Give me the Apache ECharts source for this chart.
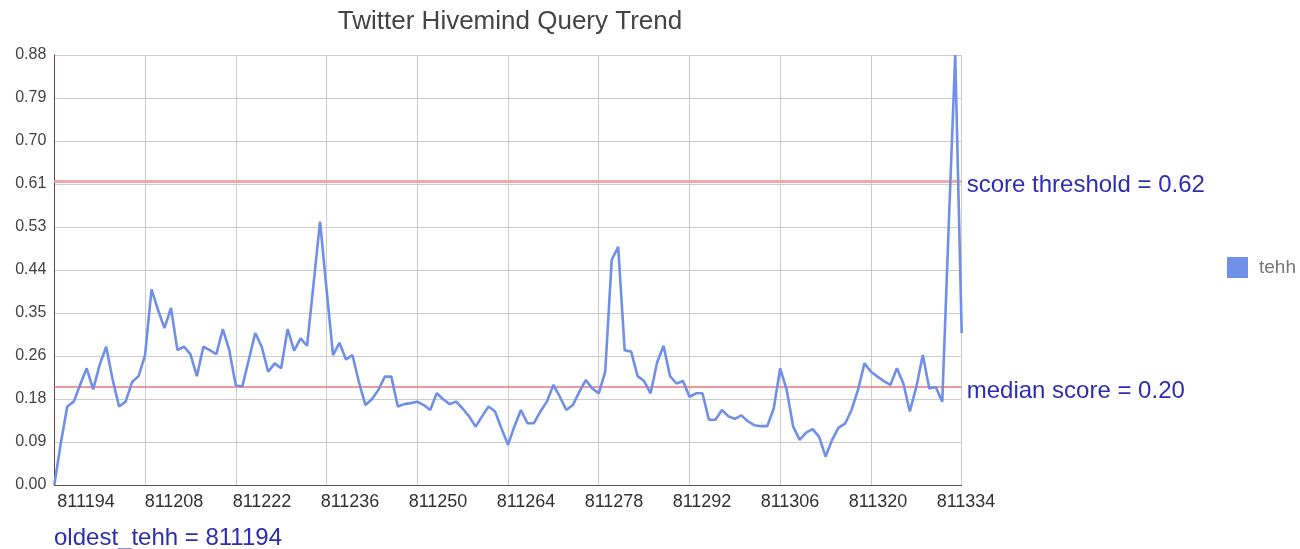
<!DOCTYPE html>
<html>
<head>
<meta charset="utf-8">
<script src="https://cdn.jsdelivr.net/npm/echarts@6/dist/echarts.min.js"></script>
<style>
  html, body { margin: 0; padding: 0; background: #fff; }
  #chart { width: 1300px; height: 549px; }
</style>
</head>
<body>
<div id="chart"></div>
<script>
// ---- data ----
const tehhIds = [
  811194,811195,811196,811197,811198,811199,811200,811201,811202,811203,
  811204,811205,811206,811207,811208,811209,811210,811211,811212,811213,
  811214,811215,811216,811217,811218,811219,811220,811221,811222,811223,
  811224,811225,811226,811227,811228,811229,811230,811231,811232,811233,
  811234,811235,811236,811237,811238,811239,811240,811241,811242,811243,
  811244,811245,811246,811247,811248,811249,811250,811251,811252,811253,
  811254,811255,811256,811257,811258,811259,811260,811261,811262,811263,
  811264,811265,811266,811267,811268,811269,811270,811271,811272,811273,
  811274,811275,811276,811277,811278,811279,811280,811281,811282,811283,
  811284,811285,811286,811287,811288,811289,811290,811291,811292,811293,
  811294,811295,811296,811297,811298,811299,811300,811301,811302,811303,
  811304,811305,811306,811307,811308,811309,811310,811311,811312,811313,
  811314,811315,811316,811317,811318,811319,811320,811321,811322,811323,
  811324,811325,811326,811327,811328,811329,811330,811331,811332,811333,
  811334
];
const tehhScores = [
  0.000,0.085,0.160,0.170,0.205,0.238,0.195,0.245,0.282,0.215,
  0.160,0.170,0.210,0.222,0.265,0.399,0.357,0.320,0.361,0.275,
  0.282,0.267,0.222,0.282,0.275,0.267,0.318,0.275,0.203,0.201,
  0.255,0.310,0.282,0.231,0.248,0.238,0.318,0.274,0.299,0.284,
  0.410,0.537,0.400,0.265,0.290,0.256,0.265,0.210,0.163,0.175,
  0.194,0.221,0.221,0.160,0.165,0.167,0.170,0.163,0.153,0.187,
  0.175,0.165,0.170,0.156,0.140,0.119,0.140,0.160,0.150,0.115,
  0.082,0.120,0.153,0.126,0.126,0.150,0.170,0.204,0.180,0.153,
  0.163,0.190,0.214,0.197,0.187,0.231,0.459,0.486,0.275,0.272,
  0.222,0.212,0.187,0.250,0.284,0.222,0.207,0.212,0.180,0.187,
  0.187,0.133,0.133,0.153,0.140,0.135,0.142,0.130,0.122,0.120,
  0.120,0.156,0.238,0.194,0.119,0.092,0.107,0.114,0.098,0.058,
  0.092,0.117,0.125,0.153,0.194,0.248,0.231,0.221,0.212,0.204,
  0.238,0.207,0.150,0.200,0.265,0.197,0.200,0.170,0.530,0.877,
  0.310
];
const seriesName = 'tehh';
const scoreThreshold = 0.62;
const medianScore = 0.20;
const oldestTehh = 811194;
const xAxisMin = 811194, xAxisMax = 811334, xAxisStep = 14;
const yAxisMax = 0.877, yAxisStep = 0.0877;
const titleText = 'Twitter Hivemind Query Trend';

// ---- chart ----
const FONT = '"Liberation Sans", Arial, Helvetica, sans-serif';
const ANNOT = '#2d2db4';
const chart = echarts.init(document.getElementById('chart'), null, { renderer: 'canvas' });

const points = tehhIds.map((id, i) => [id, tehhScores[i]]);

function annotLabel(text) {
  return {
    show: true, position: 'end', distance: 5,
    formatter: text,
    fontFamily: FONT, fontSize: 24, color: ANNOT,
    verticalAlign: 'top', lineHeight: 8
  };
}

chart.setOption({
  animation: false,
  backgroundColor: '#ffffff',
  textStyle: { fontFamily: FONT },
  title: {
    text: titleText,
    left: 505,
    top: 4,
    textAlign: 'center',
    textStyle: { fontFamily: FONT, fontSize: 26, fontWeight: 'normal', color: '#444444' }
  },
  legend: {
    data: [seriesName],
    left: 1227,
    top: 257,
    padding: 0,
    icon: 'rect',
    itemWidth: 21,
    itemHeight: 21,
    textStyle: { fontFamily: FONT, fontSize: 19, color: '#777777', padding: [0, 0, 0, 6] }
  },
  grid: [
    { left: 54.3, right: 338.3, top: 55, bottom: 64 },
    { left: 86, right: 334, top: 55, bottom: 64 }
  ],
  xAxis: [
    {
      type: 'value', gridIndex: 0,
      min: xAxisMin, max: xAxisMax, interval: xAxisStep,
      axisLine: { show: true, onZero: false, lineStyle: { color: '#555555', width: 1 } },
      axisTick: { show: false },
      axisLabel: { show: false },
      splitLine: { show: true, lineStyle: { color: '#cccccc', width: 1 } }
    },
    {
      type: 'value', gridIndex: 1,
      min: xAxisMin, max: xAxisMax, interval: xAxisStep,
      axisLine: { show: false },
      axisTick: { show: false },
      splitLine: { show: false },
      axisLabel: {
        show: true, margin: 8, showMinLabel: true, showMaxLabel: true,
        fontFamily: FONT, fontSize: 18, color: '#333333',
        formatter: v => String(v)
      }
    }
  ],
  yAxis: [
    {
      type: 'value', gridIndex: 0,
      min: 0, max: yAxisMax, interval: yAxisStep,
      axisLine: { show: true, lineStyle: { color: '#6a4444', width: 1 } },
      axisTick: { show: false },
      axisLabel: {
        margin: 8, fontFamily: FONT, fontSize: 16, color: '#444444',
        showMaxLabel: true,
        formatter: v => v.toFixed(2)
      },
      splitLine: { show: true, lineStyle: { color: '#cccccc', width: 1 } }
    },
    {
      type: 'value', gridIndex: 1, min: 0, max: yAxisMax, show: false
    }
  ],
  series: [
    {
      name: seriesName,
      type: 'line',
      xAxisIndex: 0, yAxisIndex: 0,
      data: points,
      showSymbol: false,
      symbol: 'none',
      smooth: false,
      color: '#6f8fe8',
      lineStyle: { color: '#6f8fe8', width: 2.6 },
      z: 5,
      markLine: {
        silent: true,
        symbol: ['none', 'none'],
        animation: false,
        data: [
          {
            yAxis: scoreThreshold,
            lineStyle: { color: '#f2a7ad', width: 3, type: 'solid' },
            label: annotLabel('score threshold = ' + scoreThreshold.toFixed(2))
          },
          {
            yAxis: medianScore,
            lineStyle: { color: '#e87878', width: 1.5, type: 'solid' },
            label: annotLabel('median score = ' + medianScore.toFixed(2))
          }
        ]
      }
    }
  ],
  graphic: [
    {
      type: 'text',
      left: 54,
      top: 526,
      style: {
        text: 'oldest_tehh = ' + oldestTehh,
        font: '24px ' + FONT,
        fill: ANNOT
      }
    }
  ]
});
</script>
</body>
</html>
